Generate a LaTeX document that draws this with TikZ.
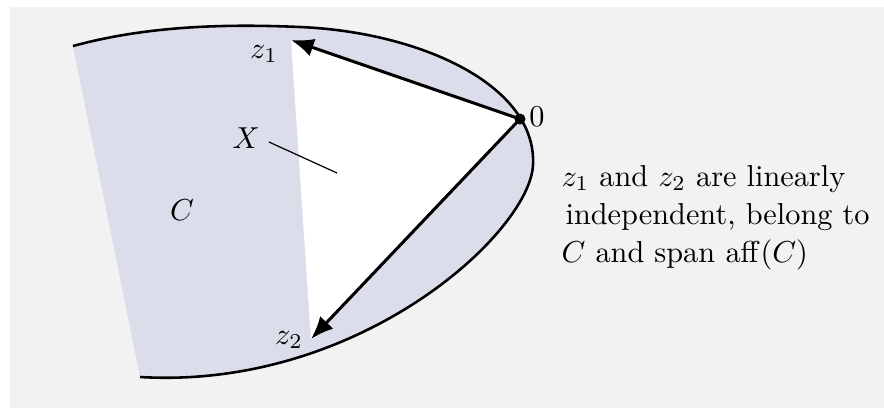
\documentclass[tikz,border=0pt]{standalone}
\usetikzlibrary{arrows.meta}
\definecolor{bggray}{RGB}{242,242,242}
\definecolor{cfill}{RGB}{220,221,235}
\begin{document}
\begin{tikzpicture}[x=0.33pt,y=-0.33pt,
  lbl/.style={inner sep=0pt,font=\fontsize{10}{12}\selectfont},
  txt/.style={inner sep=0pt,anchor=base west,font=\fontsize{10}{12}\selectfont},
  vec/.style={line width=1pt,-{Latex[length=7.5pt,width=6pt]}},
  boundary/.style={line width=0.85pt},
  pointer/.style={line width=0.4pt}]
\useasboundingbox (0,0) rectangle (884,408);
\fill[bggray] (10,7) rectangle (884,408);
\def\bdry{(73,46) .. controls (150,25) and (230,24) .. (300,27) .. controls (420,32) and (537,85) .. (533,165) .. controls (530,232) and (360,390) .. (140,377)}
% set C
\fill[cfill] \bdry -- cycle;
% coordinates
\coordinate (o) at (520,119);
\coordinate (z1tip) at (291,40);
\coordinate (z2tip) at (311,339);
% white triangle X
\fill[white] (o) -- (z1tip) -- (z2tip) -- cycle;
% boundary
\draw[boundary] \bdry;
% vectors
\draw[vec] (o) -- (z1tip);
\draw[vec] (o) -- (z2tip);
\fill (o) circle[radius=5.5];
% labels
\node[lbl] (lz1) at (264,54) {$z_1$};
\node[lbl] (lz2) at (289,340) {$z_2$};
\node[lbl] (l0) at (537,117) {$0$};
\node[lbl] (lX) at (246,138) {$X$};
\node[lbl] (lC) at (182,210) {$C$};
\coordinate (xp1) at (269,142);
\coordinate (xp2) at (337,173);
\draw[pointer] (xp1) -- (xp2);
% text
\node[txt] (t1) at (561,186) {$z_1$ and $z_2$ are linearly};
\node[txt] (t2) at (565,224) {independent, belong to};
\node[txt] (t3) at (561,262) {$C$ and span $\mathrm{aff}(C)$};
\end{tikzpicture}
\end{document}
